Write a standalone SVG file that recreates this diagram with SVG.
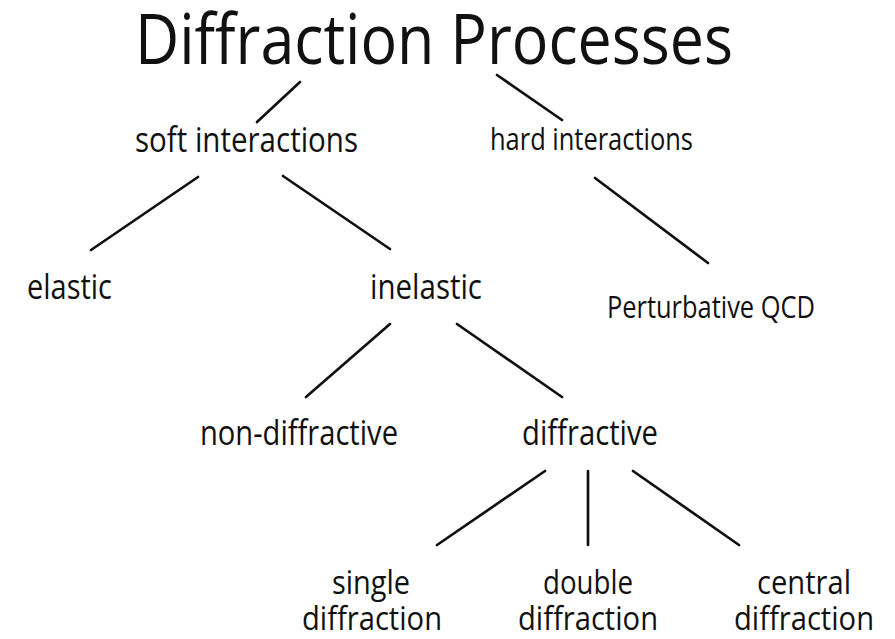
<svg xmlns="http://www.w3.org/2000/svg" width="895" height="639" viewBox="0 0 895 639">
<style>
text { font-family: "Open Sans", "Noto Sans", "Liberation Sans", sans-serif; fill: #111; }
.l { font-size: 34px; }
.b { font-size: 32px; }
.s { font-size: 31px; }
.t { font-size: 70px; }
line { stroke: #111; stroke-width: 2.7; stroke-linecap: round; }
</style>
<rect width="895" height="639" fill="#fff"/>
<g id="connectors">
<line x1="300" y1="82" x2="257" y2="122"/>
<line x1="497" y1="75" x2="562" y2="120"/>
<line x1="198" y1="177" x2="91" y2="250"/>
<line x1="283" y1="176" x2="390" y2="249"/>
<line x1="595" y1="178" x2="708" y2="263"/>
<line x1="390" y1="324" x2="306" y2="397"/>
<line x1="457" y1="324" x2="562" y2="397"/>
<line x1="545" y1="471" x2="437" y2="545"/>
<line x1="588" y1="471" x2="588" y2="545"/>
<line x1="633" y1="471" x2="739" y2="545"/>
</g>
<g id="title"><text class="t" x="135" y="64" textLength="598" lengthAdjust="spacingAndGlyphs">Diffraction Processes</text></g>
<g id="soft"><text class="l" x="135" y="152" textLength="223" lengthAdjust="spacingAndGlyphs">soft interactions</text></g>
<g id="hard"><text class="s" x="490" y="150" textLength="203" lengthAdjust="spacingAndGlyphs">hard interactions</text></g>
<g id="elastic"><text class="l" x="27" y="299" textLength="85" lengthAdjust="spacingAndGlyphs">elastic</text></g>
<g id="inelastic"><text class="l" x="370" y="299" textLength="112" lengthAdjust="spacingAndGlyphs">inelastic</text></g>
<g id="pqcd"><text class="s" x="607" y="318" textLength="208" lengthAdjust="spacingAndGlyphs">Perturbative QCD</text></g>
<g id="nondiffractive"><text class="l" x="200" y="445" textLength="198" lengthAdjust="spacingAndGlyphs">non-diffractive</text></g>
<g id="diffractive"><text class="l" x="522" y="445" textLength="136" lengthAdjust="spacingAndGlyphs">diffractive</text></g>
<g id="single">
<text class="b" x="332" y="594" textLength="78" lengthAdjust="spacingAndGlyphs">single</text>
<text class="b" x="302" y="630" textLength="140" lengthAdjust="spacingAndGlyphs">diffraction</text>
</g>
<g id="double">
<text class="b" x="543" y="594" textLength="90" lengthAdjust="spacingAndGlyphs">double</text>
<text class="b" x="518" y="630" textLength="140" lengthAdjust="spacingAndGlyphs">diffraction</text>
</g>
<g id="central">
<text class="b" x="757" y="594" textLength="94" lengthAdjust="spacingAndGlyphs">central</text>
<text class="b" x="734" y="630" textLength="140" lengthAdjust="spacingAndGlyphs">diffraction</text>
</g>
</svg>
